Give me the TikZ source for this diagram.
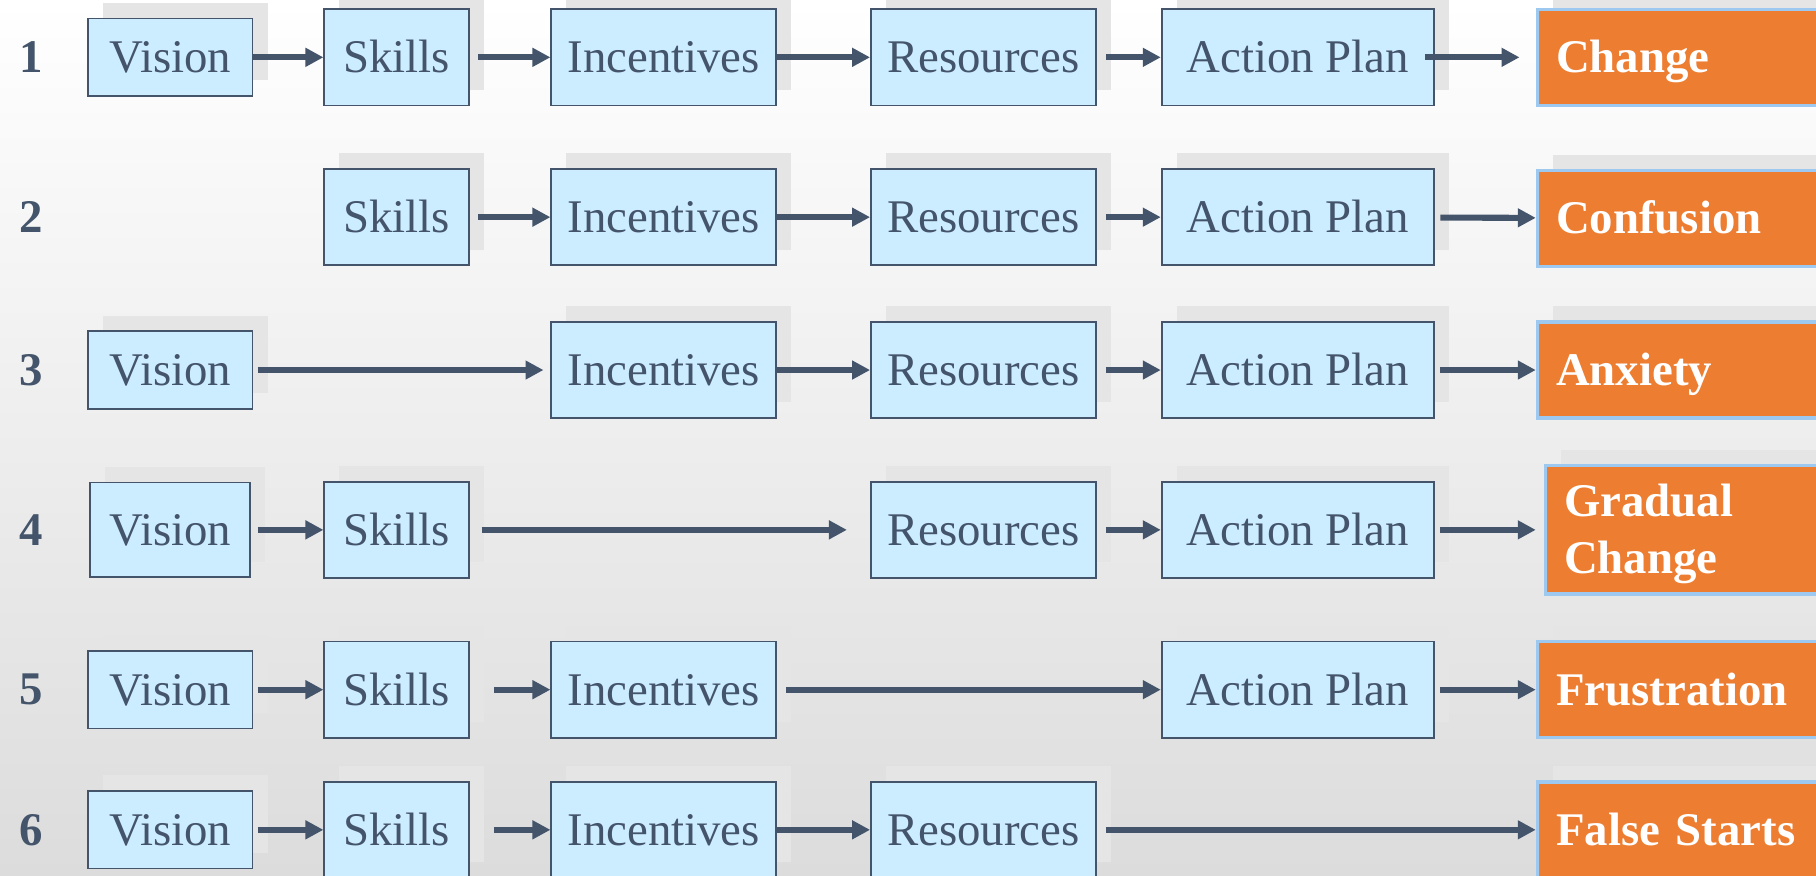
\documentclass[tikz,border=0pt]{standalone}
\usepackage{fontspec}
\setmainfont{Liberation Serif}
\usepackage{tikz}
\usetikzlibrary{arrows.meta,shadows}
\usepackage{xcolor}

\definecolor{slate}{HTML}{44546A}
\definecolor{boxblue}{HTML}{CCECFF}
\definecolor{outorange}{HTML}{ED7D31}
\definecolor{outline}{HTML}{9DC8F0}
\definecolor{shadowgray}{HTML}{E5E5E5}
\definecolor{bggray}{HTML}{DCDCDC}

\tikzset{
  boxshadow/.style={drop shadow={shadow xshift=2.6mm, shadow yshift=2.7mm, fill=shadowgray, opacity=1}},
  stage/.style={draw=slate, line width=0.3mm, fill=boxblue, text=slate, inner sep=0pt,
    minimum height=16.6mm, text height=0.66em, text depth=0pt, boxshadow},
  vision/.style={stage, minimum width=28.4mm, minimum height=13.4mm},
  skills/.style={stage, minimum width=25mm},
  incent/.style={stage, minimum width=38.8mm},
  resrc/.style={stage, minimum width=38.8mm},
  plan/.style={stage, minimum width=47mm},
  outcome/.style={draw=outline, line width=0.6mm, fill=outorange, text=white, font=\bfseries,
    anchor=west, minimum height=16.6mm, text width=44mm, inner xsep=3.2mm, inner ysep=0pt,
    align=left, text height=0.66em, text depth=0pt, boxshadow},
  rownum/.style={text=slate, font=\bfseries},
  flow/.style={-{Triangle[length=3.1mm,width=3.1mm]}, draw=slate, line width=1.05mm}
}

\begin{document}
\fontsize{23}{28}\selectfont
\begin{tikzpicture}[x=0.2mm, y=-0.2mm]
    \useasboundingbox (0,0) rectangle (1568,756);
    \shade[top color=white, bottom color=bggray] (0,0) rectangle (1568,756);

    % row numbers
    \foreach \n/\y in {1/49.5, 2/187.5, 3/319.5, 4/457.5, 5/595.5, 6/716.5}
        \node[rownum] (n\n) at (27,\y) {\n};

    % 1: everything in place
    \node[vision] (v1) at (147,49.5) {Vision};
    \node[skills] (s1) at (342.5,49.5) {Skills};
    \node[incent] (i1) at (573,49.5) {Incentives};
    \node[resrc] (r1) at (849,49.5) {Resources};
    \node[plan] (a1) at (1120.5,49.5) {Action Plan};
    \node[outcome] (o1) at (1326,49.5) {Change};
    \draw[flow] (v1) -- (s1);
    \draw[flow, shorten <=1.4mm] (s1) -- (i1);
    \draw[flow] (i1) -- (r1);
    \draw[flow, shorten <=1.6mm] (r1) -- (a1);
    \draw[flow, shorten <=-1.6mm, shorten >=2.8mm] (a1) -- (o1);

    % 2: no vision
    \node[skills] (s2) at (342.5,187.5) {Skills};
    \node[incent] (i2) at (573,187.5) {Incentives};
    \node[resrc] (r2) at (849,187.5) {Resources};
    \node[plan] (a2) at (1120.5,187.5) {Action Plan};
    \node[outcome] (o2) at (1326,188.5) {Confusion};
    \draw[flow, shorten <=1.4mm] (s2) -- (i2);
    \draw[flow] (i2) -- (r2);
    \draw[flow, shorten <=1.6mm] (r2) -- (a2);
    \draw[flow, shorten <=1mm] (a2) -- (o2);

    % 3: no skills
    \node[vision] (v3) at (147,319.5) {Vision};
    \node[incent] (i3) at (573,319.5) {Incentives};
    \node[resrc] (r3) at (849,319.5) {Resources};
    \node[plan] (a3) at (1120.5,319.5) {Action Plan};
    \node[outcome] (o3) at (1326,319.5) {Anxiety};
    \draw[flow, shorten <=0.8mm, shorten >=1.2mm] (v3) -- (i3);
    \draw[flow] (i3) -- (r3);
    \draw[flow, shorten <=1.6mm] (r3) -- (a3);
    \draw[flow, shorten <=1mm] (a3) -- (o3);

    % 4: no incentives
    \node[vision, minimum width=27.6mm, minimum height=16.4mm] (v4) at (147,457.5) {Vision};
    \node[skills] (s4) at (342.5,457.5) {Skills};
    \node[resrc] (r4) at (849,457.5) {Resources};
    \node[plan] (a4) at (1120.5,457.5) {Action Plan};
    \node[outcome, minimum height=22.2mm, text depth=28pt] (o4) at (1333,457.5) {Gradual\\Change};
    \draw[flow, shorten <=1.2mm] (v4) -- (s4);
    \draw[flow, shorten <=2mm, shorten >=4mm] (s4) -- (r4);
    \draw[flow, shorten <=1.6mm] (r4) -- (a4);
    \draw[flow, shorten <=1mm, shorten >=1.4mm] (a4) -- (o4);

    % 5: no resources
    \node[vision] (v5) at (147,595.5) {Vision};
    \node[skills] (s5) at (342.5,595.5) {Skills};
    \node[incent] (i5) at (573,595.5) {Incentives};
    \node[plan] (a5) at (1120.5,595.5) {Action Plan};
    \node[outcome] (o5) at (1326,595.5) {Frustration};
    \draw[flow, shorten <=0.8mm] (v5) -- (s5);
    \draw[flow, shorten <=4.2mm] (s5) -- (i5);
    \draw[flow, shorten <=1.6mm] (i5) -- (a5);
    \draw[flow, shorten <=1mm] (a5) -- (o5);

    % 6: no action plan
    \node[vision] (v6) at (147,716.5) {Vision};
    \node[skills] (s6) at (342.5,716.5) {Skills};
    \node[incent] (i6) at (573,716.5) {Incentives};
    \node[resrc] (r6) at (849,716.5) {Resources};
    \node[outcome] (o6) at (1326,716.5) {False Starts};
    \draw[flow, shorten <=0.8mm] (v6) -- (s6);
    \draw[flow, shorten <=4.2mm] (s6) -- (i6);
    \draw[flow] (i6) -- (r6);
    \draw[flow, shorten <=1.6mm] (r6) -- (o6);
\end{tikzpicture}
\end{document}
